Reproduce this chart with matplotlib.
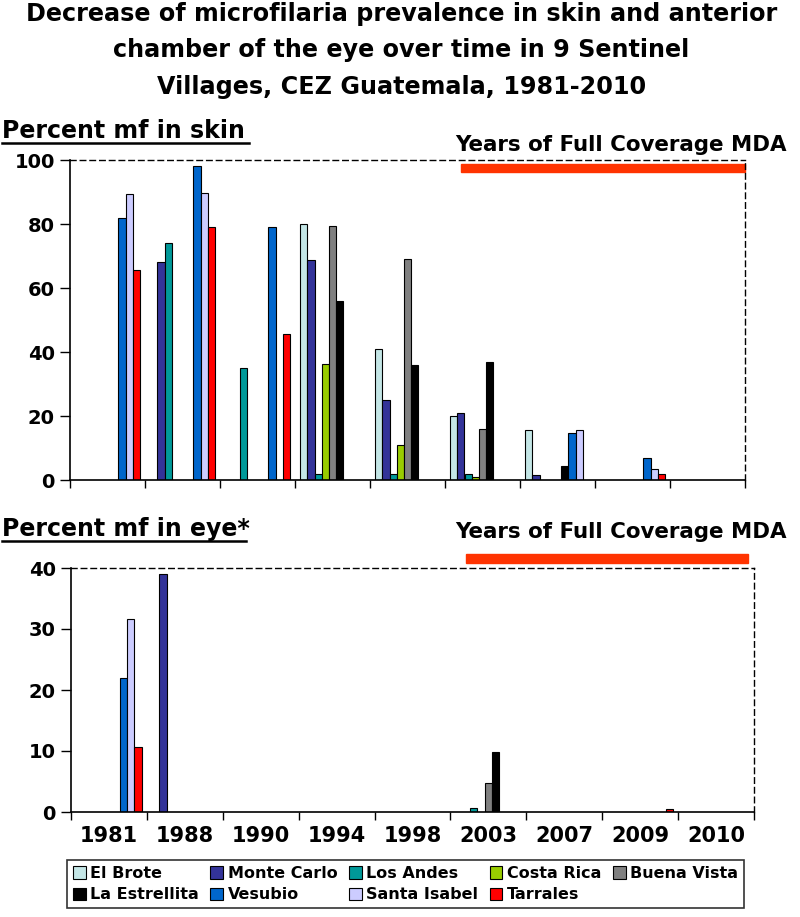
import matplotlib.pyplot as plt
from matplotlib.lines import Line2D
from matplotlib.patches import Rectangle
import numpy as np

plt.rcParams['font.family'] = ['DejaVu Sans']
plt.rcParams['font.weight'] = 'bold'

nan = np.nan

years = ['1981', '1988', '1990', '1994', '1998', '2003', '2007', '2009', '2010']
villages = ['El Brote', 'Monte Carlo', 'Los Andes', 'Costa Rica', 'Buena Vista',
            'La Estrellita', 'Vesubio', 'Santa Isabel', 'Tarrales']
colors = ['#C4E6E6', '#333399', '#009999', '#99CC00', '#808080',
          '#000000', '#0066CC', '#CCCCFF', '#FF0000']

# percent mf in skin, one list per village across the years
skin_el_brote = [nan, nan, nan, 80, 41, 20, 15.7, nan, nan]
skin_monte_carlo = [nan, 68, nan, 68.8, 25, 21, 1.7, nan, nan]
skin_los_andes = [nan, 74, 35, 2, 2, 2, nan, nan, nan]
skin_costa_rica = [nan, nan, nan, 36.3, 11, 1, nan, nan, nan]
skin_buena_vista = [nan, nan, nan, 79.5, 69, 16, nan, nan, nan]
skin_la_estrellita = [nan, nan, nan, 56, 36, 37, 4.3, nan, nan]
skin_vesubio = [82, 98.2, 79, nan, nan, nan, 14.8, 6.8, nan]
skin_santa_isabel = [89.5, 89.7, nan, nan, nan, nan, 15.5, 3.4, nan]
skin_tarrales = [65.5, 79, 45.5, nan, nan, nan, nan, 2, nan]

# percent mf in eye
eye_el_brote = [nan] * 9
eye_monte_carlo = [nan, 39, nan, nan, nan, nan, nan, nan, nan]
eye_los_andes = [nan, nan, nan, nan, nan, 0.6, nan, nan, nan]
eye_costa_rica = [nan] * 9
eye_buena_vista = [nan, nan, nan, nan, nan, 4.8, nan, nan, nan]
eye_la_estrellita = [nan, nan, nan, nan, nan, 9.9, nan, nan, nan]
eye_vesubio = [21.9, nan, nan, nan, nan, nan, nan, nan, nan]
eye_santa_isabel = [31.6, nan, nan, nan, nan, nan, nan, nan, nan]
eye_tarrales = [10.7, nan, nan, nan, nan, nan, nan, 0.5, nan]

skin = [skin_el_brote, skin_monte_carlo, skin_los_andes, skin_costa_rica, skin_buena_vista,
        skin_la_estrellita, skin_vesubio, skin_santa_isabel, skin_tarrales]
eye = [eye_el_brote, eye_monte_carlo, eye_los_andes, eye_costa_rica, eye_buena_vista,
       eye_la_estrellita, eye_vesubio, eye_santa_isabel, eye_tarrales]

mda_start = 4.71  # start of full coverage MDA period, in category units

H = 917.0
fig = plt.figure(figsize=(8, 9.17), dpi=100)
ax1 = fig.add_axes([70 / 800, 1 - 480 / H, 675 / 800, 320 / H])
ax2 = fig.add_axes([71 / 800, 1 - 812 / H, 683 / 800, 244 / H])

x = np.arange(len(years))
w = 0.096


def draw(ax, data, ymax, step):
    for i, vals in enumerate(data):
        ax.bar(x - 4 * w + i * w, vals, w, color=colors[i], edgecolor='black',
               linewidth=0.8, label=villages[i])
    ax.set_xlim(-0.5, len(years) - 0.5)
    ax.set_ylim(0, ymax)
    ax.set_yticks(np.arange(0, ymax + 1, step))
    ax.set_xticks(np.arange(-0.5, len(years)), minor=True)
    ax.set_xticks(x)
    ax.tick_params(axis='x', which='major', length=0)
    ax.tick_params(axis='x', which='minor', length=6, width=1, direction='out')
    ax.tick_params(axis='y', length=7, width=1, direction='out', labelsize=14, pad=4)
    for s in ['top', 'right']:
        ax.spines[s].set_linestyle((0, (4, 3)))
        ax.spines[s].set_linewidth(1)
    for s in ['left', 'bottom']:
        ax.spines[s].set_linewidth(1.2)


draw(ax1, skin, 100, 20)
draw(ax2, eye, 40, 10)
ax1.set_xticklabels([])
ax2.set_xticklabels(years, fontsize=15)
ax2.tick_params(axis='x', which='major', pad=10)

# full coverage MDA bars
ax1.add_patch(Rectangle((mda_start, 96.3), len(years) - 0.5 - mda_start, 2.6,
                        color='#FF3300', clip_on=False))
ax2.add_patch(Rectangle((mda_start, 40.85), 8.42 - mda_start, 1.45,
                        color='#FF3300', clip_on=False))
fig.text(455 / 800, 1 - 151 / H, 'Years of Full Coverage MDA', fontsize=15.4,
         va='baseline', ha='left')
fig.text(455 / 800, 1 - 538 / H, 'Years of Full Coverage MDA', fontsize=15.4,
         va='baseline', ha='left')

# section labels with underline
fig.text(2 / 800, 1 - 138 / H, 'Percent mf in skin', fontsize=17, va='baseline')
fig.add_artist(Line2D([2 / 800, 249 / 800], [1 - 143 / H] * 2, color='black', lw=1.8))
fig.text(2 / 800, 1 - 536 / H, 'Percent mf in eye*', fontsize=17, va='baseline')
fig.add_artist(Line2D([2 / 800, 246 / 800], [1 - 541 / H] * 2, color='black', lw=1.8))

title_lines = ['Decrease of microfilaria prevalence in skin and anterior',
               'chamber of the eye over time in 9 Sentinel',
               'Villages, CEZ Guatemala, 1981-2010']
for k, line in enumerate(title_lines):
    fig.text(0.502, 1 - (21 + 36.5 * k) / H, line, fontsize=17.2, ha='center', va='baseline')

# legend, row-wise order in 5 columns
handles, labels = ax1.get_legend_handles_labels()
order = [0, 5, 1, 6, 2, 7, 3, 8, 4]
leg = fig.legend([handles[i] for i in order], [labels[i] for i in order],
                 ncol=5, loc='lower center', bbox_to_anchor=(0.507, 1 - 916 / H),
                 fontsize=11.5, frameon=True, fancybox=False, edgecolor='black',
                 handlelength=0.8, handleheight=0.8, handletextpad=0.3,
                 columnspacing=0.7, labelspacing=0.4, borderpad=0.35)
leg.get_frame().set_linewidth(1.2)

fig.savefig('out.png', dpi=100)
